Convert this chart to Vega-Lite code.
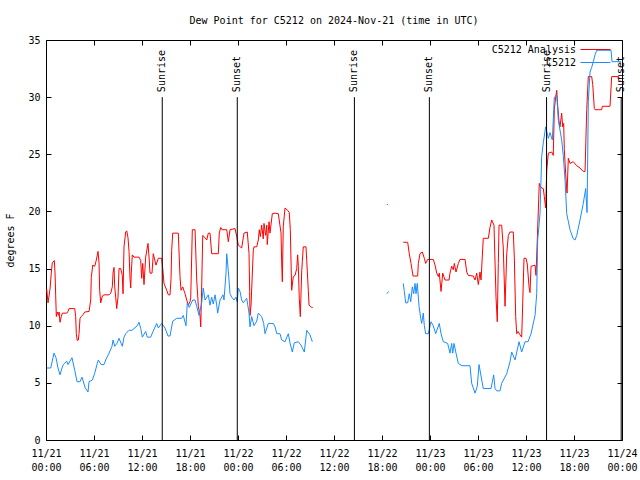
{
  "$schema": "https://vega.github.io/schema/vega-lite/v6.json",
  "width": 576,
  "height": 400,
  "autosize": {"type": "none"},
  "padding": {"left": 46, "top": 40, "right": 18, "bottom": 40},
  "background": "white",
  "title": {"text": "Dew Point for C5212 on 2024-Nov-21 (time in UTC)", "fontSize": 10, "fontWeight": "normal", "color": "black", "anchor": "middle", "offset": 9},
  "config": {
    "font": "DejaVu Sans Mono",
    "view": {"stroke": "black", "strokeWidth": 1},
    "axis": {"labelFontSize": 10, "labelColor": "black", "tickColor": "black", "tickWidth": 1, "domain": false, "grid": false, "titleFontSize": 10, "titleFontWeight": "normal", "titleColor": "black"},
    "legend": {"labelFontSize": 10, "labelColor": "black"}
  },
  "datasets": {
    "obs": [
      {"series":"C5212 Analysis","seg":"a","hour":0.09,"dewpt":13.2},
      {"series":"C5212 Analysis","seg":"a","hour":0.25,"dewpt":12.0},
      {"series":"C5212 Analysis","seg":"a","hour":0.38,"dewpt":12.6},
      {"series":"C5212 Analysis","seg":"a","hour":0.5,"dewpt":13.2},
      {"series":"C5212 Analysis","seg":"a","hour":0.66,"dewpt":14.6},
      {"series":"C5212 Analysis","seg":"a","hour":0.79,"dewpt":15.5},
      {"series":"C5212 Analysis","seg":"a","hour":1.04,"dewpt":15.7},
      {"series":"C5212 Analysis","seg":"a","hour":1.13,"dewpt":14.6},
      {"series":"C5212 Analysis","seg":"a","hour":1.29,"dewpt":10.8},
      {"series":"C5212 Analysis","seg":"a","hour":1.41,"dewpt":11.2},
      {"series":"C5212 Analysis","seg":"a","hour":1.59,"dewpt":10.9},
      {"series":"C5212 Analysis","seg":"a","hour":1.63,"dewpt":11.2},
      {"series":"C5212 Analysis","seg":"a","hour":1.75,"dewpt":10.3},
      {"series":"C5212 Analysis","seg":"a","hour":1.91,"dewpt":10.8},
      {"series":"C5212 Analysis","seg":"a","hour":2.04,"dewpt":11.1},
      {"series":"C5212 Analysis","seg":"a","hour":2.59,"dewpt":11.1},
      {"series":"C5212 Analysis","seg":"a","hour":2.75,"dewpt":11.25},
      {"series":"C5212 Analysis","seg":"a","hour":2.88,"dewpt":11.5},
      {"series":"C5212 Analysis","seg":"a","hour":3.59,"dewpt":11.5},
      {"series":"C5212 Analysis","seg":"a","hour":3.71,"dewpt":10.8},
      {"series":"C5212 Analysis","seg":"a","hour":3.79,"dewpt":9.3},
      {"series":"C5212 Analysis","seg":"a","hour":3.91,"dewpt":8.7},
      {"series":"C5212 Analysis","seg":"a","hour":4.04,"dewpt":8.75},
      {"series":"C5212 Analysis","seg":"a","hour":4.13,"dewpt":9.3},
      {"series":"C5212 Analysis","seg":"a","hour":4.25,"dewpt":10.65},
      {"series":"C5212 Analysis","seg":"a","hour":4.41,"dewpt":10.8},
      {"series":"C5212 Analysis","seg":"a","hour":4.66,"dewpt":11.0},
      {"series":"C5212 Analysis","seg":"a","hour":4.84,"dewpt":11.2},
      {"series":"C5212 Analysis","seg":"a","hour":5.38,"dewpt":11.25},
      {"series":"C5212 Analysis","seg":"a","hour":5.59,"dewpt":12.25},
      {"series":"C5212 Analysis","seg":"a","hour":5.66,"dewpt":14.2},
      {"series":"C5212 Analysis","seg":"a","hour":5.84,"dewpt":15.3},
      {"series":"C5212 Analysis","seg":"a","hour":6.09,"dewpt":15.2},
      {"series":"C5212 Analysis","seg":"a","hour":6.29,"dewpt":15.75},
      {"series":"C5212 Analysis","seg":"a","hour":6.5,"dewpt":16.5},
      {"series":"C5212 Analysis","seg":"a","hour":6.63,"dewpt":15.5},
      {"series":"C5212 Analysis","seg":"a","hour":6.71,"dewpt":13.1},
      {"series":"C5212 Analysis","seg":"a","hour":6.84,"dewpt":12.0},
      {"series":"C5212 Analysis","seg":"a","hour":7.04,"dewpt":12.6},
      {"series":"C5212 Analysis","seg":"a","hour":7.25,"dewpt":12.7},
      {"series":"C5212 Analysis","seg":"a","hour":7.88,"dewpt":12.7},
      {"series":"C5212 Analysis","seg":"a","hour":8.09,"dewpt":12.85},
      {"series":"C5212 Analysis","seg":"a","hour":8.29,"dewpt":13.4},
      {"series":"C5212 Analysis","seg":"a","hour":8.38,"dewpt":14.6},
      {"series":"C5212 Analysis","seg":"a","hour":8.5,"dewpt":15.1},
      {"series":"C5212 Analysis","seg":"a","hour":8.59,"dewpt":13.4},
      {"series":"C5212 Analysis","seg":"a","hour":8.71,"dewpt":12.5},
      {"series":"C5212 Analysis","seg":"a","hour":8.84,"dewpt":11.5},
      {"series":"C5212 Analysis","seg":"a","hour":9.0,"dewpt":12.5},
      {"series":"C5212 Analysis","seg":"a","hour":9.13,"dewpt":15.0},
      {"series":"C5212 Analysis","seg":"a","hour":9.34,"dewpt":15.0},
      {"series":"C5212 Analysis","seg":"a","hour":9.54,"dewpt":14.4},
      {"series":"C5212 Analysis","seg":"a","hour":9.63,"dewpt":12.8},
      {"series":"C5212 Analysis","seg":"a","hour":9.75,"dewpt":16.9},
      {"series":"C5212 Analysis","seg":"a","hour":9.96,"dewpt":18.2},
      {"series":"C5212 Analysis","seg":"a","hour":10.09,"dewpt":18.3},
      {"series":"C5212 Analysis","seg":"a","hour":10.25,"dewpt":17.7},
      {"series":"C5212 Analysis","seg":"a","hour":10.38,"dewpt":16.5},
      {"series":"C5212 Analysis","seg":"a","hour":10.5,"dewpt":14.15},
      {"series":"C5212 Analysis","seg":"a","hour":10.59,"dewpt":13.3},
      {"series":"C5212 Analysis","seg":"a","hour":10.66,"dewpt":14.6},
      {"series":"C5212 Analysis","seg":"a","hour":10.79,"dewpt":16.2},
      {"series":"C5212 Analysis","seg":"a","hour":11.0,"dewpt":16.0},
      {"series":"C5212 Analysis","seg":"a","hour":11.63,"dewpt":16.0},
      {"series":"C5212 Analysis","seg":"a","hour":11.84,"dewpt":15.7},
      {"series":"C5212 Analysis","seg":"a","hour":11.96,"dewpt":14.15},
      {"series":"C5212 Analysis","seg":"a","hour":12.09,"dewpt":15.45},
      {"series":"C5212 Analysis","seg":"a","hour":12.25,"dewpt":13.6},
      {"series":"C5212 Analysis","seg":"a","hour":12.46,"dewpt":16.0},
      {"series":"C5212 Analysis","seg":"a","hour":12.75,"dewpt":17.2},
      {"series":"C5212 Analysis","seg":"a","hour":12.88,"dewpt":16.0},
      {"series":"C5212 Analysis","seg":"a","hour":13.0,"dewpt":14.6},
      {"series":"C5212 Analysis","seg":"a","hour":13.25,"dewpt":14.6},
      {"series":"C5212 Analysis","seg":"a","hour":13.41,"dewpt":16.3},
      {"series":"C5212 Analysis","seg":"a","hour":13.75,"dewpt":15.3},
      {"series":"C5212 Analysis","seg":"a","hour":14.04,"dewpt":15.9},
      {"series":"C5212 Analysis","seg":"a","hour":14.46,"dewpt":15.9},
      {"series":"C5212 Analysis","seg":"a","hour":14.59,"dewpt":15.0},
      {"series":"C5212 Analysis","seg":"a","hour":14.75,"dewpt":13.7},
      {"series":"C5212 Analysis","seg":"a","hour":15.09,"dewpt":13.1},
      {"series":"C5212 Analysis","seg":"a","hour":15.29,"dewpt":12.7},
      {"series":"C5212 Analysis","seg":"a","hour":15.5,"dewpt":12.7},
      {"series":"C5212 Analysis","seg":"a","hour":15.63,"dewpt":14.15},
      {"series":"C5212 Analysis","seg":"a","hour":15.71,"dewpt":16.6},
      {"series":"C5212 Analysis","seg":"a","hour":15.84,"dewpt":18.1},
      {"series":"C5212 Analysis","seg":"a","hour":16.54,"dewpt":18.1},
      {"series":"C5212 Analysis","seg":"a","hour":16.75,"dewpt":14.3},
      {"series":"C5212 Analysis","seg":"a","hour":16.88,"dewpt":13.1},
      {"series":"C5212 Analysis","seg":"a","hour":17.09,"dewpt":13.4},
      {"series":"C5212 Analysis","seg":"a","hour":17.38,"dewpt":12.8},
      {"series":"C5212 Analysis","seg":"a","hour":17.59,"dewpt":12.25},
      {"series":"C5212 Analysis","seg":"a","hour":17.79,"dewpt":11.8},
      {"series":"C5212 Analysis","seg":"a","hour":18.0,"dewpt":12.1},
      {"series":"C5212 Analysis","seg":"a","hour":18.09,"dewpt":12.5},
      {"series":"C5212 Analysis","seg":"a","hour":18.29,"dewpt":18.4},
      {"series":"C5212 Analysis","seg":"a","hour":18.63,"dewpt":18.4},
      {"series":"C5212 Analysis","seg":"a","hour":18.84,"dewpt":14.0},
      {"series":"C5212 Analysis","seg":"a","hour":19.04,"dewpt":11.7},
      {"series":"C5212 Analysis","seg":"a","hour":19.25,"dewpt":10.9},
      {"series":"C5212 Analysis","seg":"a","hour":19.34,"dewpt":9.9},
      {"series":"C5212 Analysis","seg":"a","hour":19.46,"dewpt":13.3},
      {"series":"C5212 Analysis","seg":"a","hour":19.59,"dewpt":17.9},
      {"series":"C5212 Analysis","seg":"a","hour":19.88,"dewpt":17.7},
      {"series":"C5212 Analysis","seg":"a","hour":20.09,"dewpt":17.5},
      {"series":"C5212 Analysis","seg":"a","hour":20.29,"dewpt":18.1},
      {"series":"C5212 Analysis","seg":"a","hour":20.5,"dewpt":18.1},
      {"series":"C5212 Analysis","seg":"a","hour":20.71,"dewpt":16.3},
      {"series":"C5212 Analysis","seg":"a","hour":21.54,"dewpt":16.3},
      {"series":"C5212 Analysis","seg":"a","hour":21.66,"dewpt":18.1},
      {"series":"C5212 Analysis","seg":"a","hour":21.84,"dewpt":18.6},
      {"series":"C5212 Analysis","seg":"a","hour":22.0,"dewpt":18.4},
      {"series":"C5212 Analysis","seg":"a","hour":22.59,"dewpt":18.4},
      {"series":"C5212 Analysis","seg":"a","hour":22.79,"dewpt":17.35},
      {"series":"C5212 Analysis","seg":"a","hour":23.0,"dewpt":18.4},
      {"series":"C5212 Analysis","seg":"a","hour":23.63,"dewpt":18.5},
      {"series":"C5212 Analysis","seg":"a","hour":23.84,"dewpt":17.8},
      {"series":"C5212 Analysis","seg":"a","hour":24.04,"dewpt":17.05},
      {"series":"C5212 Analysis","seg":"a","hour":24.46,"dewpt":16.8},
      {"series":"C5212 Analysis","seg":"a","hour":24.75,"dewpt":18.1},
      {"series":"C5212 Analysis","seg":"a","hour":25.16,"dewpt":18.2},
      {"series":"C5212 Analysis","seg":"a","hour":25.38,"dewpt":16.3},
      {"series":"C5212 Analysis","seg":"a","hour":25.46,"dewpt":13.0},
      {"series":"C5212 Analysis","seg":"a","hour":25.5,"dewpt":10.9},
      {"series":"C5212 Analysis","seg":"a","hour":25.63,"dewpt":11.8},
      {"series":"C5212 Analysis","seg":"a","hour":25.91,"dewpt":16.6},
      {"series":"C5212 Analysis","seg":"a","hour":26.0,"dewpt":16.9},
      {"series":"C5212 Analysis","seg":"a","hour":26.34,"dewpt":16.9},
      {"series":"C5212 Analysis","seg":"a","hour":26.54,"dewpt":17.5},
      {"series":"C5212 Analysis","seg":"a","hour":26.66,"dewpt":18.4},
      {"series":"C5212 Analysis","seg":"a","hour":26.79,"dewpt":17.8},
      {"series":"C5212 Analysis","seg":"a","hour":26.96,"dewpt":18.8},
      {"series":"C5212 Analysis","seg":"a","hour":27.16,"dewpt":17.6},
      {"series":"C5212 Analysis","seg":"a","hour":27.25,"dewpt":18.95},
      {"series":"C5212 Analysis","seg":"a","hour":27.46,"dewpt":17.9},
      {"series":"C5212 Analysis","seg":"a","hour":27.59,"dewpt":18.8},
      {"series":"C5212 Analysis","seg":"a","hour":27.66,"dewpt":17.1},
      {"series":"C5212 Analysis","seg":"a","hour":27.88,"dewpt":19.1},
      {"series":"C5212 Analysis","seg":"a","hour":28.0,"dewpt":18.1},
      {"series":"C5212 Analysis","seg":"a","hour":28.29,"dewpt":19.8},
      {"series":"C5212 Analysis","seg":"a","hour":28.63,"dewpt":19.85},
      {"series":"C5212 Analysis","seg":"a","hour":29.04,"dewpt":19.8},
      {"series":"C5212 Analysis","seg":"a","hour":29.38,"dewpt":18.1},
      {"series":"C5212 Analysis","seg":"a","hour":29.46,"dewpt":15.5},
      {"series":"C5212 Analysis","seg":"a","hour":29.54,"dewpt":13.85},
      {"series":"C5212 Analysis","seg":"a","hour":29.66,"dewpt":18.7},
      {"series":"C5212 Analysis","seg":"a","hour":29.88,"dewpt":20.3},
      {"series":"C5212 Analysis","seg":"a","hour":30.21,"dewpt":20.1},
      {"series":"C5212 Analysis","seg":"a","hour":30.41,"dewpt":19.9},
      {"series":"C5212 Analysis","seg":"a","hour":30.54,"dewpt":18.4},
      {"series":"C5212 Analysis","seg":"a","hour":30.71,"dewpt":13.1},
      {"series":"C5212 Analysis","seg":"a","hour":30.91,"dewpt":14.3},
      {"series":"C5212 Analysis","seg":"a","hour":31.13,"dewpt":14.4},
      {"series":"C5212 Analysis","seg":"a","hour":31.34,"dewpt":15.0},
      {"series":"C5212 Analysis","seg":"a","hour":31.46,"dewpt":16.2},
      {"series":"C5212 Analysis","seg":"a","hour":31.54,"dewpt":15.2},
      {"series":"C5212 Analysis","seg":"a","hour":31.66,"dewpt":12.4},
      {"series":"C5212 Analysis","seg":"a","hour":31.79,"dewpt":10.8},
      {"series":"C5212 Analysis","seg":"a","hour":31.96,"dewpt":14.7},
      {"series":"C5212 Analysis","seg":"a","hour":32.04,"dewpt":15.6},
      {"series":"C5212 Analysis","seg":"a","hour":32.16,"dewpt":16.9},
      {"series":"C5212 Analysis","seg":"a","hour":32.5,"dewpt":16.9},
      {"series":"C5212 Analysis","seg":"a","hour":32.59,"dewpt":15.7},
      {"series":"C5212 Analysis","seg":"a","hour":32.79,"dewpt":13.1},
      {"series":"C5212 Analysis","seg":"a","hour":32.88,"dewpt":11.8},
      {"series":"C5212 Analysis","seg":"a","hour":33.21,"dewpt":11.6},
      {"series":"C5212 Analysis","seg":"a","hour":33.34,"dewpt":11.6},
      {"series":"C5212 Analysis","seg":"b","hour":42.62,"dewpt":20.6},
      {"series":"C5212 Analysis","seg":"b","hour":42.72,"dewpt":20.6},
      {"series":"C5212 Analysis","seg":"c","hour":44.66,"dewpt":17.3},
      {"series":"C5212 Analysis","seg":"c","hour":45.21,"dewpt":17.3},
      {"series":"C5212 Analysis","seg":"c","hour":45.41,"dewpt":16.3},
      {"series":"C5212 Analysis","seg":"c","hour":45.63,"dewpt":15.45},
      {"series":"C5212 Analysis","seg":"c","hour":45.88,"dewpt":14.35},
      {"series":"C5212 Analysis","seg":"c","hour":46.46,"dewpt":14.35},
      {"series":"C5212 Analysis","seg":"c","hour":46.54,"dewpt":15.45},
      {"series":"C5212 Analysis","seg":"c","hour":46.75,"dewpt":16.3},
      {"series":"C5212 Analysis","seg":"c","hour":47.04,"dewpt":16.45},
      {"series":"C5212 Analysis","seg":"c","hour":47.29,"dewpt":15.9},
      {"series":"C5212 Analysis","seg":"c","hour":47.46,"dewpt":15.45},
      {"series":"C5212 Analysis","seg":"c","hour":47.71,"dewpt":15.8},
      {"series":"C5212 Analysis","seg":"c","hour":48.41,"dewpt":15.8},
      {"series":"C5212 Analysis","seg":"c","hour":48.63,"dewpt":15.3},
      {"series":"C5212 Analysis","seg":"c","hour":48.84,"dewpt":14.6},
      {"series":"C5212 Analysis","seg":"c","hour":49.04,"dewpt":14.3},
      {"series":"C5212 Analysis","seg":"c","hour":49.16,"dewpt":14.6},
      {"series":"C5212 Analysis","seg":"c","hour":49.38,"dewpt":13.0},
      {"series":"C5212 Analysis","seg":"c","hour":49.59,"dewpt":14.6},
      {"series":"C5212 Analysis","seg":"c","hour":49.88,"dewpt":14.0},
      {"series":"C5212 Analysis","seg":"c","hour":50.38,"dewpt":14.0},
      {"series":"C5212 Analysis","seg":"c","hour":50.5,"dewpt":14.6},
      {"series":"C5212 Analysis","seg":"c","hour":50.71,"dewpt":15.2},
      {"series":"C5212 Analysis","seg":"c","hour":50.91,"dewpt":14.9},
      {"series":"C5212 Analysis","seg":"c","hour":51.04,"dewpt":15.45},
      {"series":"C5212 Analysis","seg":"c","hour":51.25,"dewpt":14.7},
      {"series":"C5212 Analysis","seg":"c","hour":51.54,"dewpt":15.45},
      {"series":"C5212 Analysis","seg":"c","hour":51.75,"dewpt":15.8},
      {"series":"C5212 Analysis","seg":"c","hour":52.38,"dewpt":15.8},
      {"series":"C5212 Analysis","seg":"c","hour":52.59,"dewpt":14.7},
      {"series":"C5212 Analysis","seg":"c","hour":52.79,"dewpt":14.4},
      {"series":"C5212 Analysis","seg":"c","hour":53.41,"dewpt":14.35},
      {"series":"C5212 Analysis","seg":"c","hour":53.63,"dewpt":14.0},
      {"series":"C5212 Analysis","seg":"c","hour":53.84,"dewpt":14.6},
      {"series":"C5212 Analysis","seg":"c","hour":54.04,"dewpt":13.6},
      {"series":"C5212 Analysis","seg":"c","hour":54.25,"dewpt":14.7},
      {"series":"C5212 Analysis","seg":"c","hour":54.38,"dewpt":14.0},
      {"series":"C5212 Analysis","seg":"c","hour":54.66,"dewpt":17.65},
      {"series":"C5212 Analysis","seg":"c","hour":55.29,"dewpt":17.65},
      {"series":"C5212 Analysis","seg":"c","hour":55.5,"dewpt":18.6},
      {"series":"C5212 Analysis","seg":"c","hour":55.71,"dewpt":19.25},
      {"series":"C5212 Analysis","seg":"c","hour":56.0,"dewpt":18.8},
      {"series":"C5212 Analysis","seg":"c","hour":56.25,"dewpt":12.5},
      {"series":"C5212 Analysis","seg":"c","hour":56.41,"dewpt":10.35},
      {"series":"C5212 Analysis","seg":"c","hour":56.54,"dewpt":15.45},
      {"series":"C5212 Analysis","seg":"c","hour":56.63,"dewpt":18.8},
      {"series":"C5212 Analysis","seg":"c","hour":56.96,"dewpt":18.8},
      {"series":"C5212 Analysis","seg":"c","hour":57.16,"dewpt":16.8},
      {"series":"C5212 Analysis","seg":"c","hour":57.38,"dewpt":11.7},
      {"series":"C5212 Analysis","seg":"c","hour":57.59,"dewpt":16.3},
      {"series":"C5212 Analysis","seg":"c","hour":57.79,"dewpt":17.9},
      {"series":"C5212 Analysis","seg":"c","hour":58.0,"dewpt":18.2},
      {"series":"C5212 Analysis","seg":"c","hour":58.41,"dewpt":18.2},
      {"series":"C5212 Analysis","seg":"c","hour":58.54,"dewpt":16.0},
      {"series":"C5212 Analysis","seg":"c","hour":58.71,"dewpt":10.8},
      {"series":"C5212 Analysis","seg":"c","hour":58.84,"dewpt":9.3},
      {"series":"C5212 Analysis","seg":"c","hour":59.0,"dewpt":9.5},
      {"series":"C5212 Analysis","seg":"c","hour":59.25,"dewpt":9.2},
      {"series":"C5212 Analysis","seg":"c","hour":59.46,"dewpt":9.0},
      {"series":"C5212 Analysis","seg":"c","hour":59.59,"dewpt":12.0},
      {"series":"C5212 Analysis","seg":"c","hour":59.75,"dewpt":15.9},
      {"series":"C5212 Analysis","seg":"c","hour":60.0,"dewpt":15.9},
      {"series":"C5212 Analysis","seg":"c","hour":60.16,"dewpt":15.4},
      {"series":"C5212 Analysis","seg":"c","hour":60.38,"dewpt":13.4},
      {"series":"C5212 Analysis","seg":"c","hour":60.5,"dewpt":12.9},
      {"series":"C5212 Analysis","seg":"c","hour":60.63,"dewpt":15.2},
      {"series":"C5212 Analysis","seg":"c","hour":61.13,"dewpt":15.3},
      {"series":"C5212 Analysis","seg":"c","hour":61.25,"dewpt":14.4},
      {"series":"C5212 Analysis","seg":"c","hour":61.41,"dewpt":17.5},
      {"series":"C5212 Analysis","seg":"c","hour":61.66,"dewpt":22.45},
      {"series":"C5212 Analysis","seg":"c","hour":61.84,"dewpt":22.1},
      {"series":"C5212 Analysis","seg":"c","hour":62.16,"dewpt":22.0},
      {"series":"C5212 Analysis","seg":"c","hour":62.29,"dewpt":21.3},
      {"series":"C5212 Analysis","seg":"c","hour":62.46,"dewpt":20.3},
      {"series":"C5212 Analysis","seg":"c","hour":62.59,"dewpt":23.6},
      {"series":"C5212 Analysis","seg":"c","hour":62.79,"dewpt":25.1},
      {"series":"C5212 Analysis","seg":"c","hour":63.21,"dewpt":25.2},
      {"series":"C5212 Analysis","seg":"c","hour":63.41,"dewpt":24.9},
      {"series":"C5212 Analysis","seg":"c","hour":63.54,"dewpt":28.9},
      {"series":"C5212 Analysis","seg":"c","hour":63.71,"dewpt":30.0},
      {"series":"C5212 Analysis","seg":"c","hour":63.84,"dewpt":30.6},
      {"series":"C5212 Analysis","seg":"c","hour":63.96,"dewpt":29.3},
      {"series":"C5212 Analysis","seg":"c","hour":64.13,"dewpt":27.85},
      {"series":"C5212 Analysis","seg":"c","hour":64.25,"dewpt":27.4},
      {"series":"C5212 Analysis","seg":"c","hour":64.46,"dewpt":28.6},
      {"series":"C5212 Analysis","seg":"c","hour":64.59,"dewpt":27.4},
      {"series":"C5212 Analysis","seg":"c","hour":64.71,"dewpt":27.7},
      {"series":"C5212 Analysis","seg":"c","hour":64.79,"dewpt":25.4},
      {"series":"C5212 Analysis","seg":"c","hour":64.96,"dewpt":23.3},
      {"series":"C5212 Analysis","seg":"c","hour":65.13,"dewpt":21.6},
      {"series":"C5212 Analysis","seg":"c","hour":65.29,"dewpt":24.65},
      {"series":"C5212 Analysis","seg":"c","hour":65.5,"dewpt":24.2},
      {"series":"C5212 Analysis","seg":"c","hour":65.91,"dewpt":24.35},
      {"series":"C5212 Analysis","seg":"c","hour":66.34,"dewpt":24.0},
      {"series":"C5212 Analysis","seg":"c","hour":66.75,"dewpt":23.8},
      {"series":"C5212 Analysis","seg":"c","hour":67.16,"dewpt":23.5},
      {"series":"C5212 Analysis","seg":"c","hour":67.38,"dewpt":23.5},
      {"series":"C5212 Analysis","seg":"c","hour":67.59,"dewpt":28.9},
      {"series":"C5212 Analysis","seg":"c","hour":67.79,"dewpt":31.8},
      {"series":"C5212 Analysis","seg":"c","hour":68.21,"dewpt":31.8},
      {"series":"C5212 Analysis","seg":"c","hour":68.34,"dewpt":31.1},
      {"series":"C5212 Analysis","seg":"c","hour":68.54,"dewpt":29.0},
      {"series":"C5212 Analysis","seg":"c","hour":68.63,"dewpt":28.9},
      {"series":"C5212 Analysis","seg":"c","hour":69.46,"dewpt":28.9},
      {"series":"C5212 Analysis","seg":"c","hour":69.54,"dewpt":29.2},
      {"series":"C5212 Analysis","seg":"c","hour":70.5,"dewpt":29.2},
      {"series":"C5212 Analysis","seg":"c","hour":70.71,"dewpt":31.8},
      {"series":"C5212 Analysis","seg":"c","hour":71.46,"dewpt":31.8},
      {"series":"C5212 Analysis","seg":"c","hour":71.63,"dewpt":31.4},
      {"series":"C5212 Analysis","seg":"c","hour":71.88,"dewpt":31.4},
      {"series":"C5212","seg":"a","hour":0.09,"dewpt":6.3},
      {"series":"C5212","seg":"a","hour":0.59,"dewpt":6.3},
      {"series":"C5212","seg":"a","hour":1.0,"dewpt":7.6},
      {"series":"C5212","seg":"a","hour":1.25,"dewpt":7.2},
      {"series":"C5212","seg":"a","hour":1.5,"dewpt":6.3},
      {"series":"C5212","seg":"a","hour":1.75,"dewpt":5.7},
      {"series":"C5212","seg":"a","hour":2.0,"dewpt":6.3},
      {"series":"C5212","seg":"a","hour":2.16,"dewpt":6.6},
      {"series":"C5212","seg":"a","hour":2.59,"dewpt":6.9},
      {"series":"C5212","seg":"a","hour":2.75,"dewpt":6.6},
      {"series":"C5212","seg":"a","hour":3.25,"dewpt":7.2},
      {"series":"C5212","seg":"a","hour":3.59,"dewpt":6.1},
      {"series":"C5212","seg":"a","hour":3.88,"dewpt":5.1},
      {"series":"C5212","seg":"a","hour":4.25,"dewpt":5.1},
      {"series":"C5212","seg":"a","hour":4.5,"dewpt":5.5},
      {"series":"C5212","seg":"a","hour":4.88,"dewpt":4.6},
      {"series":"C5212","seg":"a","hour":5.25,"dewpt":4.2},
      {"series":"C5212","seg":"a","hour":5.38,"dewpt":5.1},
      {"series":"C5212","seg":"a","hour":5.79,"dewpt":5.25},
      {"series":"C5212","seg":"a","hour":6.09,"dewpt":5.85},
      {"series":"C5212","seg":"a","hour":6.41,"dewpt":6.7},
      {"series":"C5212","seg":"a","hour":6.54,"dewpt":7.0},
      {"series":"C5212","seg":"a","hour":6.88,"dewpt":6.6},
      {"series":"C5212","seg":"a","hour":7.25,"dewpt":6.6},
      {"series":"C5212","seg":"a","hour":7.46,"dewpt":7.0},
      {"series":"C5212","seg":"a","hour":7.88,"dewpt":7.6},
      {"series":"C5212","seg":"a","hour":8.25,"dewpt":8.2},
      {"series":"C5212","seg":"a","hour":8.38,"dewpt":8.75},
      {"series":"C5212","seg":"a","hour":8.59,"dewpt":8.2},
      {"series":"C5212","seg":"a","hour":8.91,"dewpt":8.5},
      {"series":"C5212","seg":"a","hour":9.13,"dewpt":8.9},
      {"series":"C5212","seg":"a","hour":9.54,"dewpt":8.2},
      {"series":"C5212","seg":"a","hour":9.75,"dewpt":9.0},
      {"series":"C5212","seg":"a","hour":9.96,"dewpt":9.3},
      {"series":"C5212","seg":"a","hour":10.38,"dewpt":9.6},
      {"series":"C5212","seg":"a","hour":10.75,"dewpt":9.6},
      {"series":"C5212","seg":"a","hour":11.41,"dewpt":10.0},
      {"series":"C5212","seg":"a","hour":11.63,"dewpt":10.3},
      {"series":"C5212","seg":"a","hour":11.84,"dewpt":9.75},
      {"series":"C5212","seg":"a","hour":12.04,"dewpt":9.0},
      {"series":"C5212","seg":"a","hour":12.46,"dewpt":9.5},
      {"series":"C5212","seg":"a","hour":12.66,"dewpt":9.0},
      {"series":"C5212","seg":"a","hour":13.09,"dewpt":9.0},
      {"series":"C5212","seg":"a","hour":13.38,"dewpt":9.5},
      {"series":"C5212","seg":"a","hour":13.84,"dewpt":10.2},
      {"series":"C5212","seg":"a","hour":14.04,"dewpt":9.8},
      {"series":"C5212","seg":"a","hour":14.46,"dewpt":10.2},
      {"series":"C5212","seg":"a","hour":14.88,"dewpt":9.8},
      {"series":"C5212","seg":"a","hour":15.25,"dewpt":9.1},
      {"series":"C5212","seg":"a","hour":15.5,"dewpt":9.1},
      {"series":"C5212","seg":"a","hour":15.84,"dewpt":10.4},
      {"series":"C5212","seg":"a","hour":16.34,"dewpt":10.65},
      {"series":"C5212","seg":"a","hour":16.96,"dewpt":10.65},
      {"series":"C5212","seg":"a","hour":17.16,"dewpt":10.9},
      {"series":"C5212","seg":"a","hour":17.5,"dewpt":10.0},
      {"series":"C5212","seg":"a","hour":17.66,"dewpt":12.0},
      {"series":"C5212","seg":"a","hour":17.91,"dewpt":11.6},
      {"series":"C5212","seg":"a","hour":18.34,"dewpt":12.25},
      {"series":"C5212","seg":"a","hour":18.63,"dewpt":12.25},
      {"series":"C5212","seg":"a","hour":18.84,"dewpt":11.7},
      {"series":"C5212","seg":"a","hour":19.13,"dewpt":10.9},
      {"series":"C5212","seg":"a","hour":19.46,"dewpt":12.0},
      {"series":"C5212","seg":"a","hour":19.66,"dewpt":13.3},
      {"series":"C5212","seg":"a","hour":19.88,"dewpt":12.25},
      {"series":"C5212","seg":"a","hour":20.29,"dewpt":12.7},
      {"series":"C5212","seg":"a","hour":20.5,"dewpt":11.8},
      {"series":"C5212","seg":"a","hour":20.71,"dewpt":12.5},
      {"series":"C5212","seg":"a","hour":20.91,"dewpt":11.9},
      {"series":"C5212","seg":"a","hour":21.13,"dewpt":12.7},
      {"series":"C5212","seg":"a","hour":21.34,"dewpt":11.8},
      {"series":"C5212","seg":"a","hour":21.46,"dewpt":11.1},
      {"series":"C5212","seg":"a","hour":21.75,"dewpt":12.25},
      {"series":"C5212","seg":"a","hour":22.13,"dewpt":12.7},
      {"series":"C5212","seg":"a","hour":22.25,"dewpt":12.25},
      {"series":"C5212","seg":"a","hour":22.5,"dewpt":14.6},
      {"series":"C5212","seg":"a","hour":22.59,"dewpt":16.3},
      {"series":"C5212","seg":"a","hour":22.79,"dewpt":14.8},
      {"series":"C5212","seg":"a","hour":23.0,"dewpt":12.8},
      {"series":"C5212","seg":"a","hour":23.21,"dewpt":12.5},
      {"series":"C5212","seg":"a","hour":23.5,"dewpt":12.25},
      {"series":"C5212","seg":"a","hour":23.75,"dewpt":12.5},
      {"series":"C5212","seg":"a","hour":23.91,"dewpt":12.1},
      {"series":"C5212","seg":"a","hour":24.04,"dewpt":13.3},
      {"series":"C5212","seg":"a","hour":24.25,"dewpt":13.0},
      {"series":"C5212","seg":"a","hour":24.46,"dewpt":12.25},
      {"series":"C5212","seg":"a","hour":24.66,"dewpt":12.0},
      {"series":"C5212","seg":"a","hour":25.09,"dewpt":12.4},
      {"series":"C5212","seg":"a","hour":25.38,"dewpt":11.1},
      {"series":"C5212","seg":"a","hour":25.5,"dewpt":9.9},
      {"series":"C5212","seg":"a","hour":25.71,"dewpt":10.8},
      {"series":"C5212","seg":"a","hour":26.0,"dewpt":10.0},
      {"series":"C5212","seg":"a","hour":26.34,"dewpt":10.4},
      {"series":"C5212","seg":"a","hour":26.54,"dewpt":11.1},
      {"series":"C5212","seg":"a","hour":26.96,"dewpt":10.8},
      {"series":"C5212","seg":"a","hour":27.21,"dewpt":10.2},
      {"series":"C5212","seg":"a","hour":27.38,"dewpt":9.3},
      {"series":"C5212","seg":"a","hour":27.79,"dewpt":10.2},
      {"series":"C5212","seg":"a","hour":28.41,"dewpt":10.2},
      {"series":"C5212","seg":"a","hour":28.63,"dewpt":9.9},
      {"series":"C5212","seg":"a","hour":28.84,"dewpt":9.3},
      {"series":"C5212","seg":"a","hour":29.25,"dewpt":9.3},
      {"series":"C5212","seg":"a","hour":29.46,"dewpt":8.75},
      {"series":"C5212","seg":"a","hour":29.88,"dewpt":8.6},
      {"series":"C5212","seg":"a","hour":30.29,"dewpt":9.3},
      {"series":"C5212","seg":"a","hour":30.5,"dewpt":8.5},
      {"series":"C5212","seg":"a","hour":30.79,"dewpt":7.7},
      {"series":"C5212","seg":"a","hour":31.04,"dewpt":8.5},
      {"series":"C5212","seg":"a","hour":31.54,"dewpt":8.6},
      {"series":"C5212","seg":"a","hour":31.88,"dewpt":8.3},
      {"series":"C5212","seg":"a","hour":32.29,"dewpt":7.7},
      {"series":"C5212","seg":"a","hour":32.59,"dewpt":9.6},
      {"series":"C5212","seg":"a","hour":33.0,"dewpt":9.2},
      {"series":"C5212","seg":"a","hour":33.29,"dewpt":8.6},
      {"series":"C5212","seg":"b","hour":42.6,"dewpt":12.8},
      {"series":"C5212","seg":"b","hour":42.85,"dewpt":13.0},
      {"series":"C5212","seg":"c","hour":44.66,"dewpt":13.7},
      {"series":"C5212","seg":"c","hour":44.79,"dewpt":13.0},
      {"series":"C5212","seg":"c","hour":44.96,"dewpt":12.0},
      {"series":"C5212","seg":"c","hour":45.21,"dewpt":12.0},
      {"series":"C5212","seg":"c","hour":45.41,"dewpt":12.8},
      {"series":"C5212","seg":"c","hour":45.59,"dewpt":12.1},
      {"series":"C5212","seg":"c","hour":45.79,"dewpt":13.4},
      {"series":"C5212","seg":"c","hour":45.96,"dewpt":12.8},
      {"series":"C5212","seg":"c","hour":46.13,"dewpt":13.7},
      {"series":"C5212","seg":"c","hour":46.25,"dewpt":12.8},
      {"series":"C5212","seg":"c","hour":46.41,"dewpt":13.7},
      {"series":"C5212","seg":"c","hour":46.63,"dewpt":11.7},
      {"series":"C5212","seg":"c","hour":46.84,"dewpt":10.65},
      {"series":"C5212","seg":"c","hour":46.96,"dewpt":10.2},
      {"series":"C5212","seg":"c","hour":47.16,"dewpt":11.1},
      {"series":"C5212","seg":"c","hour":47.29,"dewpt":10.0},
      {"series":"C5212","seg":"c","hour":47.46,"dewpt":9.3},
      {"series":"C5212","seg":"c","hour":47.79,"dewpt":9.3},
      {"series":"C5212","seg":"c","hour":48.13,"dewpt":10.35},
      {"series":"C5212","seg":"c","hour":48.41,"dewpt":10.0},
      {"series":"C5212","seg":"c","hour":48.71,"dewpt":9.3},
      {"series":"C5212","seg":"c","hour":49.16,"dewpt":10.2},
      {"series":"C5212","seg":"c","hour":49.38,"dewpt":9.3},
      {"series":"C5212","seg":"c","hour":49.66,"dewpt":8.6},
      {"series":"C5212","seg":"c","hour":50.21,"dewpt":8.45},
      {"series":"C5212","seg":"c","hour":50.5,"dewpt":7.6},
      {"series":"C5212","seg":"c","hour":50.71,"dewpt":8.45},
      {"series":"C5212","seg":"c","hour":50.84,"dewpt":7.6},
      {"series":"C5212","seg":"c","hour":51.0,"dewpt":8.45},
      {"series":"C5212","seg":"c","hour":51.25,"dewpt":7.6},
      {"series":"C5212","seg":"c","hour":51.54,"dewpt":6.7},
      {"series":"C5212","seg":"c","hour":52.0,"dewpt":6.5},
      {"series":"C5212","seg":"c","hour":53.0,"dewpt":6.5},
      {"series":"C5212","seg":"c","hour":53.21,"dewpt":4.96},
      {"series":"C5212","seg":"c","hour":53.63,"dewpt":4.1},
      {"series":"C5212","seg":"c","hour":53.91,"dewpt":4.7},
      {"series":"C5212","seg":"c","hour":54.13,"dewpt":6.6},
      {"series":"C5212","seg":"c","hour":54.38,"dewpt":5.6},
      {"series":"C5212","seg":"c","hour":54.66,"dewpt":4.5},
      {"series":"C5212","seg":"c","hour":55.63,"dewpt":4.5},
      {"series":"C5212","seg":"c","hour":55.96,"dewpt":5.7},
      {"series":"C5212","seg":"c","hour":56.13,"dewpt":4.5},
      {"series":"C5212","seg":"c","hour":56.34,"dewpt":4.3},
      {"series":"C5212","seg":"c","hour":56.75,"dewpt":4.3},
      {"series":"C5212","seg":"c","hour":56.96,"dewpt":4.96},
      {"series":"C5212","seg":"c","hour":57.59,"dewpt":5.8},
      {"series":"C5212","seg":"c","hour":58.0,"dewpt":6.85},
      {"series":"C5212","seg":"c","hour":58.21,"dewpt":7.7},
      {"series":"C5212","seg":"c","hour":58.63,"dewpt":7.0},
      {"series":"C5212","seg":"c","hour":59.13,"dewpt":8.6},
      {"series":"C5212","seg":"c","hour":59.46,"dewpt":7.7},
      {"series":"C5212","seg":"c","hour":59.88,"dewpt":8.6},
      {"series":"C5212","seg":"c","hour":60.25,"dewpt":8.6},
      {"series":"C5212","seg":"c","hour":60.63,"dewpt":9.3},
      {"series":"C5212","seg":"c","hour":61.13,"dewpt":10.9},
      {"series":"C5212","seg":"c","hour":61.34,"dewpt":12.8},
      {"series":"C5212","seg":"c","hour":61.46,"dewpt":17.5},
      {"series":"C5212","seg":"c","hour":61.75,"dewpt":19.8},
      {"series":"C5212","seg":"c","hour":61.96,"dewpt":24.8},
      {"series":"C5212","seg":"c","hour":62.16,"dewpt":26.0},
      {"series":"C5212","seg":"c","hour":62.46,"dewpt":27.4},
      {"series":"C5212","seg":"c","hour":62.79,"dewpt":26.4},
      {"series":"C5212","seg":"c","hour":63.0,"dewpt":26.9},
      {"series":"C5212","seg":"c","hour":63.29,"dewpt":26.25},
      {"series":"C5212","seg":"c","hour":63.54,"dewpt":30.0},
      {"series":"C5212","seg":"c","hour":63.84,"dewpt":30.2},
      {"series":"C5212","seg":"c","hour":64.04,"dewpt":28.0},
      {"series":"C5212","seg":"c","hour":64.46,"dewpt":26.25},
      {"series":"C5212","seg":"c","hour":64.66,"dewpt":24.9},
      {"series":"C5212","seg":"c","hour":64.88,"dewpt":22.75},
      {"series":"C5212","seg":"c","hour":65.09,"dewpt":19.8},
      {"series":"C5212","seg":"c","hour":65.5,"dewpt":18.4},
      {"series":"C5212","seg":"c","hour":65.91,"dewpt":17.6},
      {"series":"C5212","seg":"c","hour":66.13,"dewpt":17.5},
      {"series":"C5212","seg":"c","hour":66.34,"dewpt":17.9},
      {"series":"C5212","seg":"c","hour":66.75,"dewpt":19.25},
      {"series":"C5212","seg":"c","hour":67.16,"dewpt":20.7},
      {"series":"C5212","seg":"c","hour":67.46,"dewpt":22.0},
      {"series":"C5212","seg":"c","hour":67.63,"dewpt":19.9},
      {"series":"C5212","seg":"c","hour":67.79,"dewpt":29.6},
      {"series":"C5212","seg":"c","hour":68.0,"dewpt":32.2},
      {"series":"C5212","seg":"c","hour":68.21,"dewpt":32.6},
      {"series":"C5212","seg":"c","hour":68.41,"dewpt":33.1},
      {"series":"C5212","seg":"c","hour":68.63,"dewpt":33.7},
      {"series":"C5212","seg":"c","hour":68.84,"dewpt":34.1},
      {"series":"C5212","seg":"c","hour":70.63,"dewpt":34.1},
      {"series":"C5212","seg":"c","hour":70.75,"dewpt":33.1},
      {"series":"C5212","seg":"c","hour":71.88,"dewpt":33.1}
    ],
    "events": [
      {"hour": 14.53, "event": "Sunrise"},
      {"hour": 23.91, "event": "Sunset"},
      {"hour": 38.55, "event": "Sunrise"},
      {"hour": 47.92, "event": "Sunset"},
      {"hour": 62.57, "event": "Sunrise"},
      {"hour": 71.9, "event": "Sunset"}
    ]
  },
  "layer": [
    {
      "data": {"name": "obs"},
      "mark": {"type": "line", "strokeWidth": 1, "interpolate": "linear"},
      "encoding": {
        "x": {"field": "hour", "type": "quantitative", "scale": {"domain": [0, 72], "nice": false, "zero": false},
          "axis": {"orient": "bottom", "values": [0,6,12,18,24,30,36,42,48,54,60,66,72], "tickSize": -5, "labelPadding": 13, "labelFlush": false, "labelOverlap": false, "labelLineHeight": 14, "title": null,
            "labelExpr": "['11/' + (21 + floor(datum.value / 24)), (datum.value % 24 < 10 ? '0' : '') + (datum.value % 24) + ':00']"}},
        "y": {"field": "dewpt", "type": "quantitative", "scale": {"domain": [0, 35], "nice": false},
          "axis": {"orient": "left", "values": [0,5,10,15,20,25,30,35], "tickSize": -5, "labelPadding": 11, "labelFlush": false, "title": "degrees F", "titlePadding": 12}},
        "color": {"field": "series", "type": "nominal",
          "scale": {"domain": ["C5212 Analysis", "C5212"], "range": ["#ff0000", "#1a8cff"]},
          "legend": {"orient": "none", "legendX": 444, "legendY": 4, "title": null, "symbolType": "M-3,0H3", "symbolSize": 100, "symbolStrokeWidth": 1, "symbolOffset": 100, "labelOffset": -25, "labelAlign": "right", "rowPadding": 2, "padding": 0}},
        "detail": {"field": "seg", "type": "nominal"}
      }
    },
    {
      "data": {"name": "events"},
      "mark": {"type": "rule", "color": "black", "strokeWidth": 1},
      "encoding": {
        "x": {"field": "hour", "type": "quantitative", "axis": {"orient": "top", "values": [0,6,12,18,24,30,36,42,48,54,60,66,72], "tickSize": -5, "labels": false, "title": null}},
        "y": {"datum": 0, "axis": {"orient": "right", "values": [0,5,10,15,20,25,30,35], "tickSize": -5, "labels": false, "title": null}},
        "y2": {"datum": 30}
      }
    },
    {
      "data": {"name": "events"},
      "mark": {"type": "text", "angle": 270, "align": "left", "baseline": "middle", "dx": 5, "fontSize": 10, "color": "black"},
      "encoding": {
        "x": {"field": "hour", "type": "quantitative", "axis": null},
        "y": {"datum": 30, "axis": null},
        "text": {"field": "event"}
      }
    }
  ],
  "resolve": {"axis": {"x": "independent", "y": "independent"}}
}
